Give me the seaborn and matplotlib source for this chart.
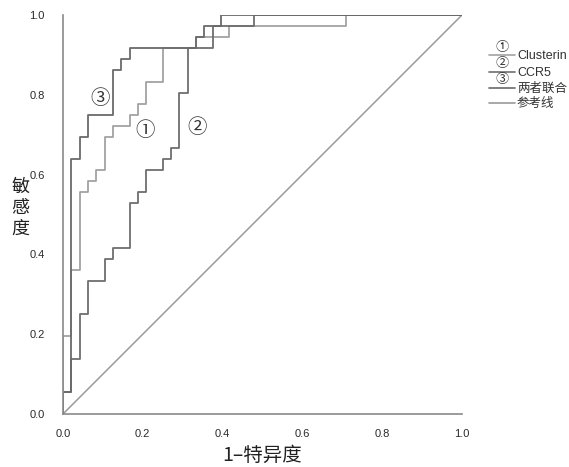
import numpy as np
import pandas as pd
import matplotlib
matplotlib.use("Agg")
import matplotlib.pyplot as plt
from matplotlib.lines import Line2D
import seaborn as sns

# ── Data: ROC step vertices (n_pos = 36, n_neg = 48) ────────────
N_POS, N_NEG = 36, 48

# Clusterin (①)
clu_fpr = [0, 0, 1, 1, 2, 2, 3, 3, 4, 4, 5, 5, 6, 6, 8, 8, 9, 9,
           10, 10, 12, 12, 16, 16, 20, 20, 34, 34, 48]
clu_tpr = [0, 7, 7, 13, 13, 20, 20, 21, 21, 22, 22, 25, 25, 26, 26, 27, 27, 28,
           28, 30, 30, 33, 33, 34, 34, 35, 35, 36, 36]

# CCR5 (②)
ccr_fpr = [0, 0, 1, 1, 2, 2, 3, 3, 5, 5, 6, 6, 8, 8, 9, 9, 10, 10,
           12, 12, 13, 13, 14, 14, 15, 15, 18, 18, 23, 23, 48]
ccr_tpr = [0, 2, 2, 5, 5, 9, 9, 12, 12, 14, 14, 15, 15, 19, 19, 20, 20, 22,
           22, 23, 23, 24, 24, 29, 29, 33, 33, 35, 35, 36, 36]

# 两者联合 (③)
com_fpr = [0, 0, 1, 1, 2, 2, 3, 3, 6, 6, 7, 7, 8, 8, 16, 16, 17, 17,
           19, 19, 48]
com_tpr = [0, 2, 2, 23, 23, 25, 25, 27, 27, 31, 31, 32, 32, 33, 33, 34, 34, 35,
           35, 36, 36]

ref_fpr = [0, 1]
ref_tpr = [0, 1]

CURVES = ["Clusterin", "CCR5", "两者联合"]
MARKS = ["①", "②", "③"]
COLORS = {"Clusterin": "#a2a2a2", "CCR5": "#6e6e6e", "两者联合": "#6a6a6a"}
REF_COLOR = "#9a9a9a"

frames = []
for name, f, t in zip(CURVES, [clu_fpr, ccr_fpr, com_fpr],
                      [clu_tpr, ccr_tpr, com_tpr]):
    frames.append(pd.DataFrame({"fpr": np.array(f) / N_NEG,
                                "tpr": np.array(t) / N_POS,
                                "curve": name}))
roc = pd.concat(frames, ignore_index=True)

# ── Figure ──────────────────────────────────────────────────────
W, H = 569, 467
sns.set_style("white")
plt.rcParams["font.family"] = ["Liberation Sans", "Noto Sans CJK SC", "DejaVu Sans"]

fig = plt.figure(figsize=(W / 100, H / 100), dpi=100)
ax = fig.add_axes([63 / W, 1 - 414 / H, 399 / W, 399 / H])

ax.plot(ref_fpr, ref_tpr, color=REF_COLOR, linewidth=1.1, zorder=1)
sns.lineplot(data=roc, x="fpr", y="tpr", hue="curve", palette=COLORS,
             estimator=None, sort=False, units="curve", linewidth=1.3,
             legend=False, ax=ax, zorder=2)

ticks = np.arange(0, 1.01, 0.2)
ax.set_xlim(0, 1)
ax.set_ylim(0, 1)
ax.set_xticks(ticks)
ax.set_yticks(ticks)
ax.set_xticklabels([f"{v:.1f}" for v in ticks])
ax.set_yticklabels([f"{v:.1f}" for v in ticks])
ax.tick_params(axis="x", direction="in", length=4, width=0.8, color="#888888",
               labelsize=8, labelcolor="#2a2a2a", pad=11)
ax.tick_params(axis="y", direction="inout", length=6, width=0.8, color="#888888",
               labelsize=8, labelcolor="#2a2a2a", pad=10)
ax.spines[["top", "right"]].set_visible(False)
for s in ["left", "bottom"]:
    ax.spines[s].set_color("#8a8a8a")
    ax.spines[s].set_linewidth(1.2)
ax.set_xlabel("")
ax.set_ylabel("")

# Axis titles
fig.text(262 / W, 1 - 455 / H, "1–特异度", ha="center", va="center",
         fontsize=14, color="#222222", family=["Noto Sans CJK SC"])
fig.text(20 / W, 1 - 208 / H, "敏\n感\n度", ha="center", va="center",
         fontsize=13, color="#222222", linespacing=1.2,
         family=["Noto Sans CJK SC"])

# Curve annotations
for mk, (x, y) in zip(["③", "①", "②"], [(0.093, 0.79), (0.205, 0.71), (0.336, 0.717)]):
    ax.text(x, y, mk, fontsize=14, ha="center", va="center",
            color="#333333", family=["Noto Sans CJK SC", "DejaVu Sans"])

# Manual legend
leg_labels = CURVES + ["参考线"]
leg_marks = MARKS + [""]
leg_colors = [COLORS[c] for c in CURVES] + [REF_COLOR]
leg_rows = [55, 72, 88, 103]
for lab, mk, col, py in zip(leg_labels, leg_marks, leg_colors, leg_rows):
    fig.add_artist(Line2D([489 / W, 515 / W], [1 - py / H, 1 - py / H],
                          color=col, linewidth=1.2, transform=fig.transFigure))
    if mk:
        fig.text(502 / W, 1 - (py - 8) / H, mk, ha="center", va="center",
                 fontsize=9.5, color="#333333",
                 family=["Noto Sans CJK SC", "DejaVu Sans"])
    fig.text(517 / W, 1 - (py + 1) / H, lab, ha="left", va="center",
             fontsize=9, color="#333333")

fig.savefig("out.png", dpi=100)
